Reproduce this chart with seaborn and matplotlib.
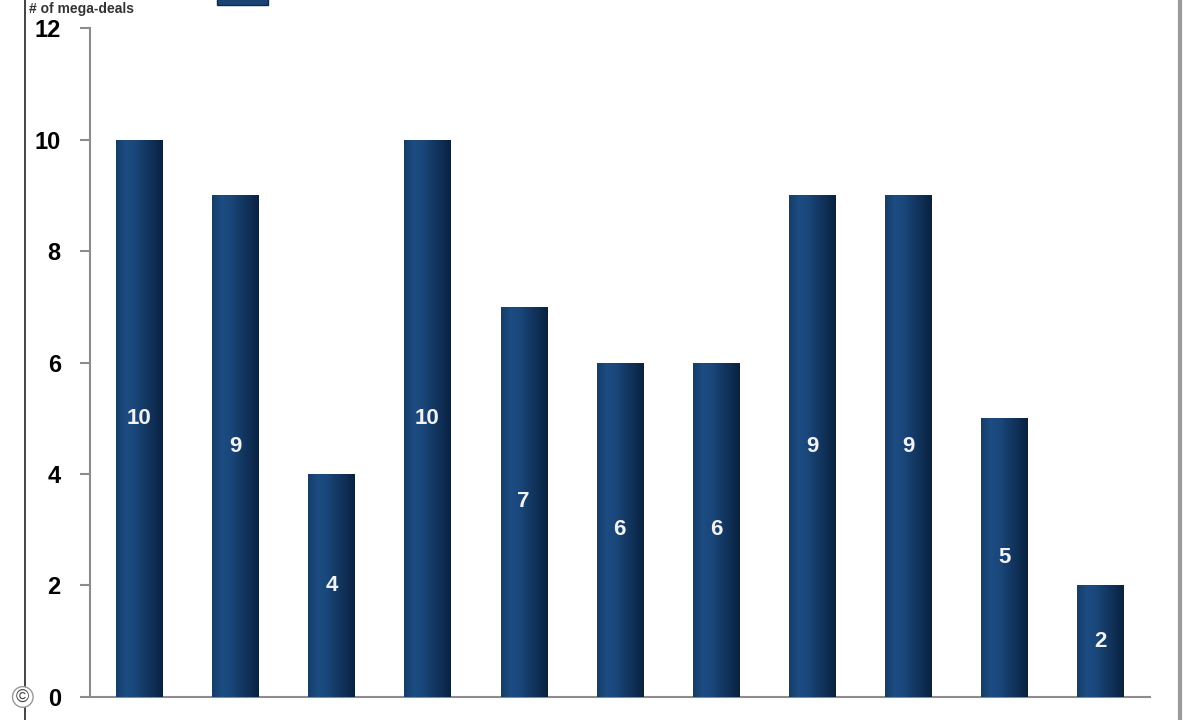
import matplotlib.pyplot as plt
from matplotlib.patches import Rectangle
import matplotlib.colors as mcolors
import seaborn as sns
import pandas as pd
import numpy as np

# x labels are cut off in the source, so these names are only placeholders
periods = ["P1", "P2", "P3", "P4", "P5", "P6", "P7", "P8", "P9", "P10", "P11"]
mega_deals = [10, 9, 4, 10, 7, 6, 6, 9, 9, 5, 2]
y_ticks = [0, 2, 4, 6, 8, 10, 12]
legend_label = "# of mega-deals"

df = pd.DataFrame({"period": periods, "deals": mega_deals})

sns.set_style("white")
plt.rcParams['font.family'] = ['Liberation Sans', 'DejaVu Sans']

fig = plt.figure(figsize=(12, 7.2), dpi=100)
ax = fig.add_axes([0.075, 0.032, 0.883, 0.929])

bar_color = "#17406e"
sns.barplot(data=df, x="period", y="deals", color=bar_color, width=0.48,
            saturation=1, ax=ax, zorder=2)

# shaded look on the bars: dark edges, lighter just left of centre
cmap = mcolors.LinearSegmentedColormap.from_list(
    "bar", ["#163d68", "#1c4c82", "#1a477b", "#143a66", "#0f2f55", "#0a2040"])
grad = np.linspace(0, 1, 64).reshape(1, -1)
for p in ax.patches:
    x0, w, h = p.get_x(), p.get_width(), p.get_height()
    im = ax.imshow(grad, cmap=cmap, aspect="auto", extent=(x0, x0 + w, 0, h),
                   zorder=3)
    im.set_clip_path(p)
    ax.text(x0 + w / 2, h / 2, f"{int(h)}", ha="center", va="center",
            color="#f2f2f2", fontsize=16, fontweight="bold", zorder=4)

ax.set_xlim(-0.51, 10.51)
ax.set_ylim(0, 12)
ax.set_yticks(y_ticks)
ax.set_yticklabels([str(t) for t in y_ticks], fontsize=17, fontweight="bold",
                   color="black")
ax.set_xticks([])
ax.set_xlabel("")
ax.set_ylabel("")

for side in ["top", "right"]:
    ax.spines[side].set_visible(False)
for side in ["left", "bottom"]:
    ax.spines[side].set_color("#8c8c8c")
    ax.spines[side].set_linewidth(1.5)
ax.tick_params(axis="y", which="major", direction="out", length=7, width=1.5,
               color="#8c8c8c", pad=14, left=True)

# legend strip at the top (cut off in the source)
fig.text(0.024, 0.988, legend_label, fontsize=10, fontweight="bold",
         color="#333333", ha="left", va="center")
fig.patches.append(Rectangle((0.181, 0.993), 0.042, 0.03, transform=fig.transFigure,
                             facecolor="#1a4373", edgecolor="#0d2a4d", figure=fig))

# frame lines at the edges of the picture
fig.add_artist(plt.Line2D([0.021, 0.021], [0, 1], transform=fig.transFigure,
                          color="#222222", linewidth=1.2))
fig.add_artist(plt.Line2D([0.983, 0.983], [0, 1], transform=fig.transFigure,
                          color="#9a9a9a", linewidth=3))
fig.text(0.019, 0.032, "\u00a9", fontsize=13, ha="center", va="center",
         color="#444444", bbox=dict(boxstyle="circle,pad=0.1", facecolor="white",
                                    edgecolor="#999999"))

fig.savefig("out.png", dpi=100)
